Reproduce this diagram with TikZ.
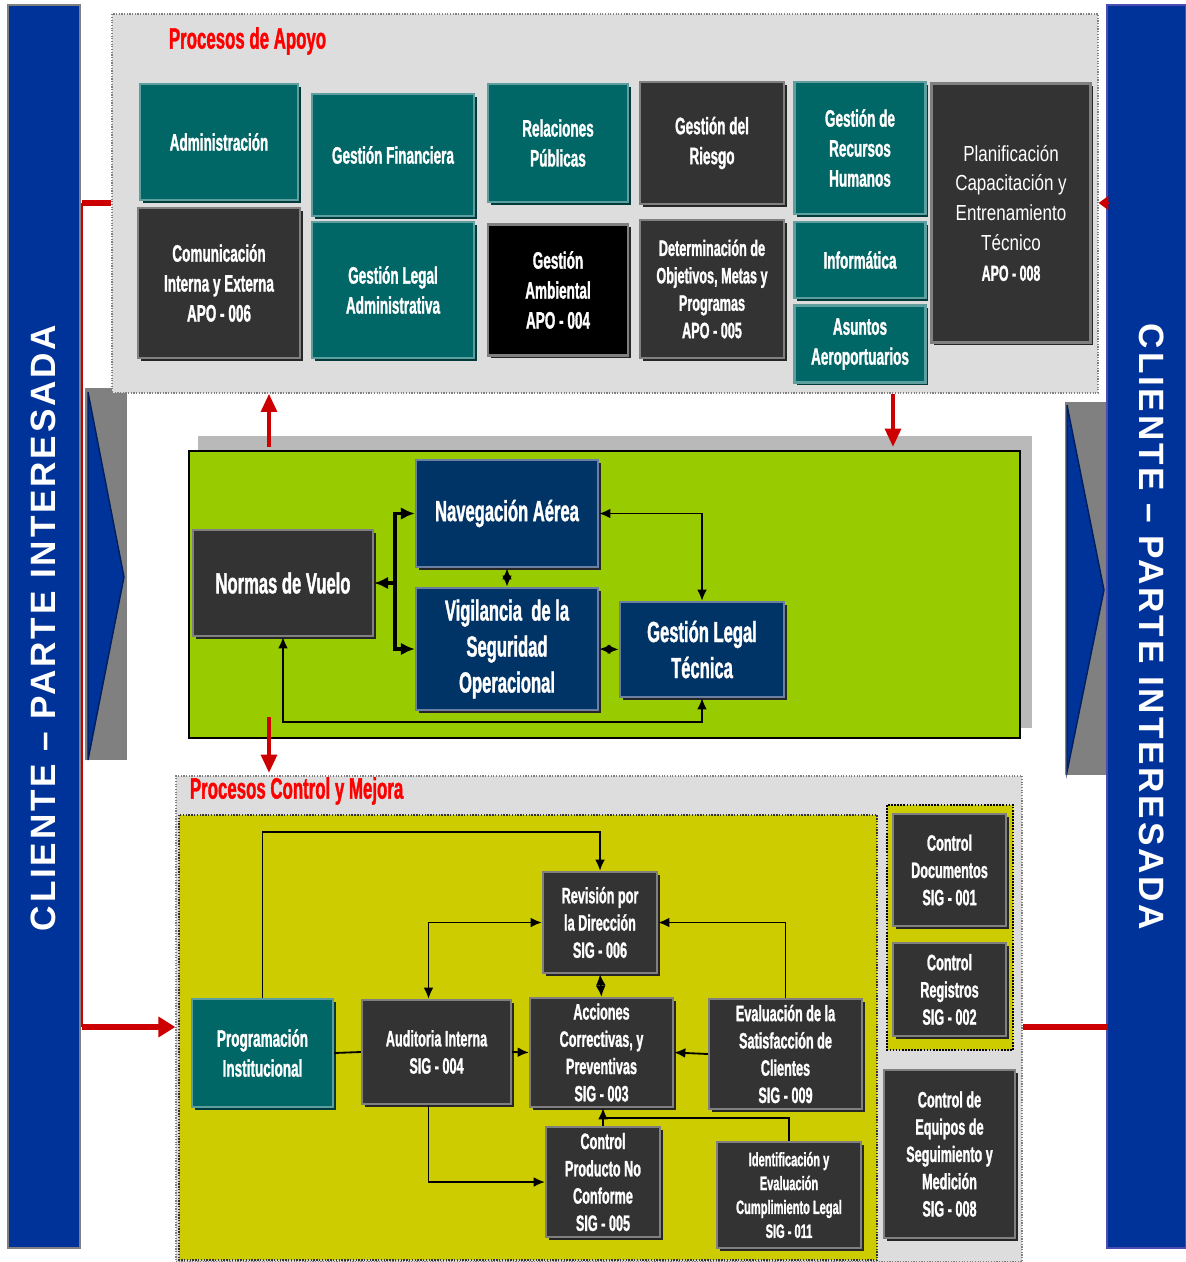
\documentclass[tikz,border=0pt]{standalone}
\usepackage{fontspec}
\setmainfont{Liberation Sans}
\newfontfamily\nfont[FakeStretch=0.57, BoldFeatures={FakeBold=1.2}]{Liberation Sans}
\newfontfamily\mfont[FakeStretch=0.78]{Liberation Sans}
\usetikzlibrary{positioning,arrows.meta,shadows}

\definecolor{azulband}{HTML}{003399}
\definecolor{tealproc}{HTML}{006666}
\definecolor{tealborde}{HTML}{5E9E9E}
\definecolor{tealsombra}{HTML}{003A3A}
\definecolor{grisproc}{HTML}{333333}
\definecolor{navyproc}{HTML}{003366}
\definecolor{navyborde}{HTML}{6B7FA3}
\definecolor{verdecore}{HTML}{99CC00}
\definecolor{amarillo}{HTML}{CCCC00}
\definecolor{fondo}{HTML}{DDDDDD}
\definecolor{rojo}{HTML}{CC0000}
\definecolor{rojotit}{HTML}{FF0000}

\tikzset{
  >={Latex[length=8pt,width=7pt]},
  wh/.style 2 args={minimum width=#1*0.025cm, minimum height=#2*0.025cm},
  proc/.style={rectangle, align=center, text=white, inner sep=1pt, line width=1.6pt},
  procteal/.style={proc, fill=tealproc, draw=tealborde,
    drop shadow={shadow xshift=1.8pt, shadow yshift=-1.8pt, opacity=1, fill=tealsombra}},
  procgris/.style={proc, fill=grisproc, draw=gray,
    drop shadow={shadow xshift=1.8pt, shadow yshift=-1.8pt, opacity=1, fill=black!85}},
  procnegro/.style={proc, fill=black, draw=gray,
    drop shadow={shadow xshift=1.8pt, shadow yshift=-1.8pt, opacity=1, fill=black!85}},
  procazul/.style={proc, fill=navyproc, draw=navyborde,
    drop shadow={shadow xshift=1.8pt, shadow yshift=-1.8pt, opacity=1, fill=black!85}},
  fA/.style={font=\nfont\bfseries\fontsize{16.9}{21.3}\selectfont},
  fB/.style={font=\nfont\bfseries\fontsize{15.8}{19.5}\selectfont},
  fM/.style={font=\nfont\bfseries\fontsize{20.7}{25.6}\selectfont},
  fL/.style={font=\nfont\bfseries\fontsize{15.8}{19.4}\selectfont},
  fS/.style={font=\nfont\bfseries\fontsize{13.8}{17}\selectfont},
  fP/.style={font=\mfont\fontsize{15.5}{21.3}\selectfont},
  region/.style={rectangle, draw=gray, densely dotted, line width=0.9pt, fill=fondo},
  titulo/.style={anchor=west, text=rojotit, font=\nfont\bfseries\fontsize{21}{22}\selectfont},
  bandtexto/.style={text=white, font=\bfseries\fontsize{25}{30}\selectfont\addfontfeatures{LetterSpace=8}},
  conex/.style={draw=black, line width=1.3pt},
  rojoline/.style={draw=rojo, line width=4.5pt},
  rojoflecha/.style={draw=rojo, line width=3pt, -{Triangle[length=13pt,width=11pt]}}
}

\begin{document}
\begin{tikzpicture}[x=0.025cm, y=-0.025cm]
\useasboundingbox (0,0) rectangle (1185,1262);

% bandas de cliente
\filldraw[fill=azulband, draw=gray, line width=1pt] (8,5) rectangle (80,1248);
\filldraw[fill=azulband, draw=gray!60!blue, line width=1pt] (1107,5) rectangle (1186,1248);
\node[bandtexto, rotate=90] (clienteizq) at (43,628) {CLIENTE – PARTE INTERESADA};
\node[bandtexto, rotate=-90] (clienteder) at (1152,627) {CLIENTE – PARTE INTERESADA};

% flechas laterales
\fill[gray] (85,388) rectangle (127,760);
\filldraw[fill=azulband, draw=azulband!60!black, line width=1pt] (88,392) -- (124,577) -- (88,760) -- cycle;
\fill[gray] (1065,402) rectangle (1106,775);
\filldraw[fill=azulband, draw=azulband!60!black, line width=1pt] (1067,405) -- (1104,590) -- (1067,772) -- cycle;

% procesos de apoyo
\node[region, wh={986}{379}] (apoyo) at (605,203.5) {};
\node[titulo] (titapoyo) at (164,41) {Procesos de Apoyo};

\node[procteal, wh={158}{116}, fA] (admin) at (219,142) {Administración};
\node[procgris, wh={162}{150}, fA] (comunic) at (219,283) {Comunicación\\Interna y Externa\\APO - 006};
\node[procteal, wh={162}{122}, fA] (financ) at (393,155) {Gestión Financiera};
\node[procteal, wh={162}{136}, fA] (legadm) at (393,290) {Gestión Legal\\Administrativa};
\node[procteal, wh={140}{118}, fA] (rrpp) at (558,143) {Relaciones\\Públicas};
\node[procnegro, wh={140}{131}, fA] (ambient) at (558,290) {Gestión\\Ambiental\\APO - 004};
\node[procgris, wh={144}{122}, fA] (riesgo) at (712,143) {Gestión del\\Riesgo};
\node[procgris, wh={144}{138}, fB] (objetiv) at (712,289) {Determinación de\\Objetivos, Metas y\\Programas\\APO - 005};
\node[procteal, wh={131}{132}, fA] (rrhh) at (860,148) {Gestión de\\Recursos\\Humanos};
\node[procteal, wh={131}{76}, fA] (informat) at (860,260) {Informática};
\node[procteal, wh={131}{77}, fA] (aero) at (860,344) {Asuntos\\Aeroportuarios};
\node[procgris, wh={159}{259}, fP] (capacit) at (1011,213) {Planificación\\Capacitación y\\Entrenamiento\\Técnico\\{\nfont\bfseries APO - 008}};

% procesos operativos
\fill[gray!55] (198,436) rectangle (1032,728);
\node[draw=black, line width=1.5pt, fill=verdecore, wh={831}{287}] (core) at (604.5,594.5) {};

\node[procgris, wh={180}{106}, fM] (normas) at (283,583) {Normas de Vuelo};
\node[procazul, wh={182}{107}, fM] (navaer) at (507,513.5) {Navegación Aérea};
\node[procazul, wh={182}{122}, fM] (vigil) at (507,649) {Vigilancia~ de la\\Seguridad\\Operacional};
\node[procazul, wh={164}{95}, fM] (legtec) at (702,649.5) {Gestión Legal\\Técnica};

\coordinate (horq) at (395,583);
\coordinate (lazo) at (283,722);
\draw[conex, line width=2.4pt, -{Latex[length=10pt,width=9pt]}] (horq) -- (normas.east);
\draw[conex, line width=2.4pt, -{Latex[length=10pt,width=9pt]}] (horq) |- (navaer.west);
\draw[conex, line width=2.4pt, -{Latex[length=10pt,width=9pt]}] (horq) |- (vigil.west);
\draw[conex, line width=1.6pt, <->] (navaer.south) -- (vigil.north);
\draw[conex, <->] (navaer.east) -| (legtec.north);
\draw[conex, line width=2pt, <->] (vigil.east) -- (legtec.west);
\draw[conex, <->] (normas.south) -- (lazo) -| (legtec.south);

% procesos control y mejora
\node[region, wh={846}{486}] (mejora) at (599,1019) {};
\node[titulo] (titmejora) at (185,791) {Procesos Control y Mejora};
\filldraw[fill=amarillo, draw=black!80, densely dotted, line width=1pt] (179,815) rectangle (877,1260);
\filldraw[fill=amarillo, draw=black, densely dotted, line width=1.2pt] (887,805) rectangle (1013,1050);

\node[procteal, wh={141}{108}, fA] (program) at (262.5,1053) {Programación\\Institucional};
\node[procgris, wh={149}{104}, fL] (audit) at (436.5,1052) {Auditoria Interna\\SIG - 004};
\node[procgris, wh={114}{101}, fL] (revis) at (600,922.5) {Revisión por\\la Dirección\\SIG - 006};
\node[procgris, wh={143}{109}, fL] (acciones) at (601.5,1052.5) {Acciones\\Correctivas, y\\Preventivas\\SIG - 003};
\node[procgris, wh={153}{110}, fL] (satisf) at (785.5,1054) {Evaluación de la\\Satisfacción de\\Clientes\\SIG - 009};
\node[procgris, wh={114}{110}, fL] (noconf) at (603,1182) {Control\\Producto No\\Conforme\\SIG - 005};
\node[procgris, wh={144}{106}, fS] (ident) at (789,1195) {Identificación y\\Evaluación\\Cumplimiento Legal\\SIG - 011};
\node[procgris, wh={113}{112}, fL] (cdoc) at (949.5,870) {Control\\Documentos\\SIG - 001};
\node[procgris, wh={113}{93}, fL] (creg) at (949.5,989.5) {Control\\Registros\\SIG - 002};
\node[procgris, wh={131}{168}, fL] (cequip) at (949.5,1154) {Control de\\Equipos de\\Seguimiento y\\Medición\\SIG - 008};

\coordinate (arriba) at (600,832);
\coordinate (union) at (603,1118);
\draw[conex, ->] (program.north) |- (arriba) -- (revis.north);
\draw[conex] (program.east) -- (audit.west);
\draw[conex, <->] (revis.west) -| ([xshift=-0.2cm]audit.north);
\draw[conex, ->] (audit.east) -- (acciones.west);
\draw[conex, <->] (revis.south) -- (acciones.north);
\draw[conex, ->] (satisf.north) |- (revis.east);
\draw[conex, ->] (satisf.west) -- (acciones.east);
\draw[conex, ->] ([xshift=-0.2cm]audit.south) |- (noconf.west);
\draw[conex, ->] (noconf.north) -- (noconf.north |- acciones.south);
\draw[conex] (ident.north) |- (union);

% flechas rojas
\coordinate (rojoA) at (82,203);
\coordinate (rojoB) at (82,1027);
\coordinate (rojoC) at (1108,203);
\coordinate (rojoD) at (1108,1027);
\draw[rojo, line width=1.6pt] (rojoA) -- (rojoB);
\draw[rojoline] (rojoA) -- (rojoA -| apoyo.west);
\draw[rojoline, -{Triangle[length=12pt,width=14pt]}] (rojoB) -- (rojoB -| mejora.west);
\draw[rojo, line width=1pt, -{Triangle[length=7pt,width=10pt]}] (rojoC) -- (rojoC -| apoyo.east);
\draw[rojoline] (rojoD -| mejora.east) -- (rojoD);
\coordinate (subeA) at (269,447);
\coordinate (bajaA) at (893,447);
\coordinate (bajaB) at (269,717);
\coordinate (bajaC) at (269,773);
\draw[rojoflecha] (subeA) -- (subeA |- apoyo.south);
\draw[rojoflecha] (bajaA |- apoyo.south) -- (bajaA);
\draw[rojoflecha] (bajaB) -- (bajaC);
\end{tikzpicture}
\end{document}
